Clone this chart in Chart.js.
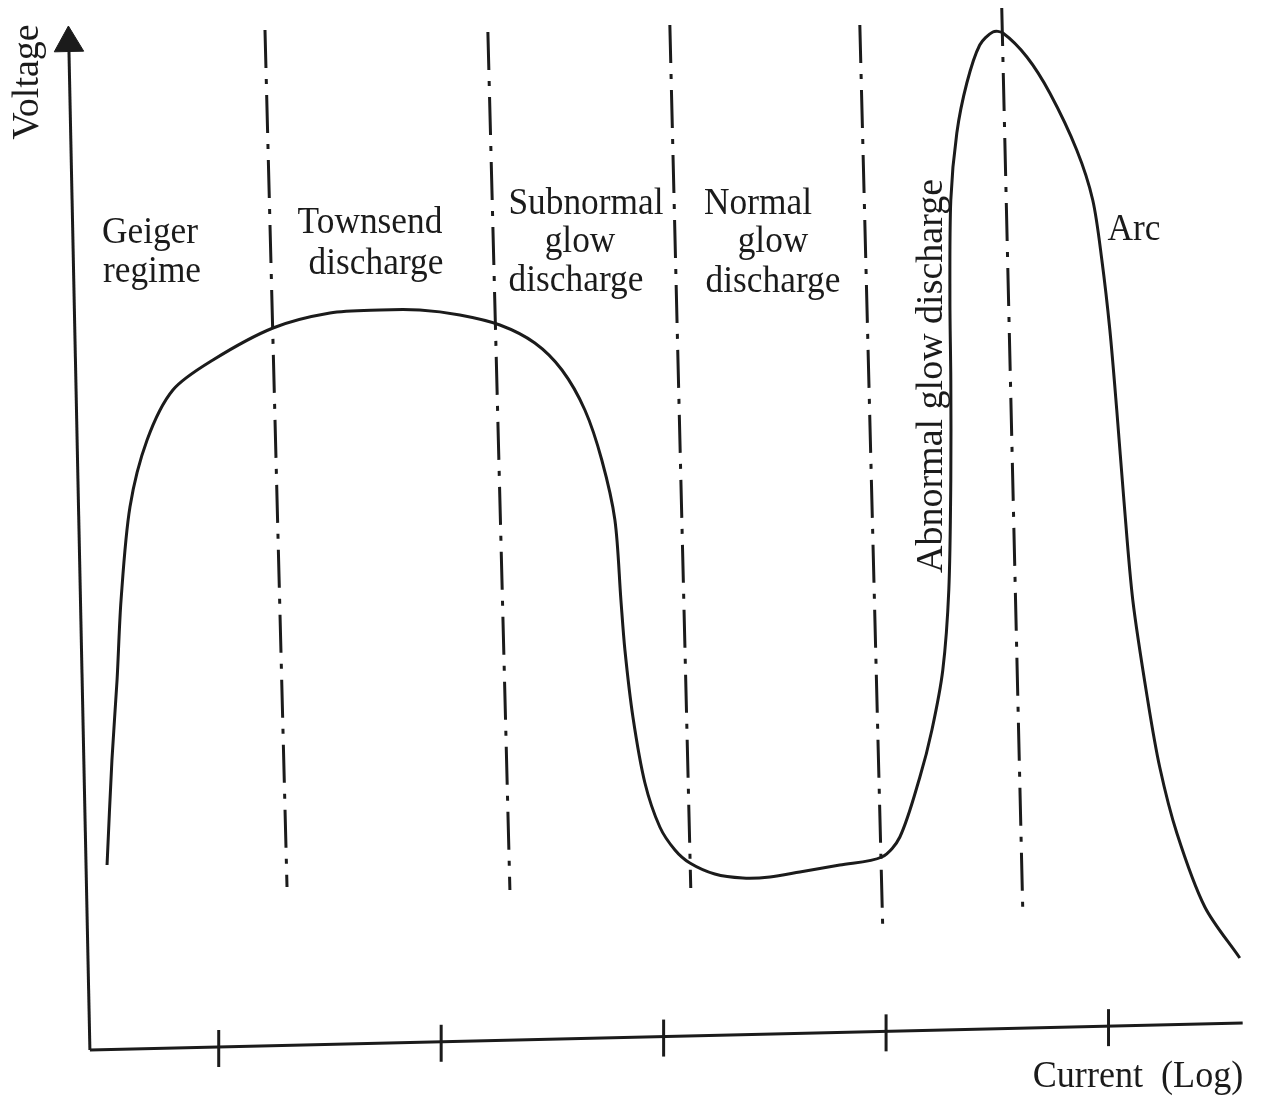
<!DOCTYPE html>
<html>
<head>
<meta charset="utf-8">
<title>Voltage-current characteristic of a gas discharge</title>
<script src="https://cdn.jsdelivr.net/npm/chart.js@4.4.3/dist/chart.umd.min.js"></script>
<style>
  html, body { margin: 0; padding: 0; background: #fff; }
  #wrap { width: 1264px; height: 1098px; position: relative; }
</style>
</head>
<body>
<div id="wrap"><canvas id="chart"></canvas></div>
<script>
  // x = log current (decades, ticks at 1..5), y = voltage (arbitrary units)
  var curveX = [0.498, 0.520, 0.543, 0.561, 0.601, 0.678, 0.794, 0.974, 1.244, 1.500,
                1.725, 1.904, 2.084, 2.264, 2.421, 2.543, 2.646, 2.722, 2.781, 2.808,
                2.826, 2.862, 2.916, 2.983, 3.051, 3.118, 3.230, 3.356, 3.478, 3.612,
                3.792, 3.981, 4.062, 4.152, 4.206, 4.255, 4.282, 4.291, 4.291, 4.287,
                4.291, 4.318, 4.363, 4.421, 4.480, 4.525, 4.633, 4.736, 4.857, 4.929,
                4.970, 5.006, 5.037, 5.069, 5.109, 5.176, 5.230, 5.307, 5.433, 5.590];
  var curveV = [1.85, 2.90, 3.70, 4.50, 5.43, 6.10, 6.60, 6.90, 7.22, 7.37,
                7.40, 7.40, 7.35, 7.25, 7.07, 6.80, 6.40, 5.90, 5.30, 4.50,
                4.00, 3.33, 2.67, 2.23, 2.00, 1.87, 1.76, 1.72, 1.73, 1.78,
                1.85, 1.93, 2.13, 2.73, 3.20, 3.80, 4.60, 5.70, 6.70, 7.50,
                8.50, 9.17, 9.67, 10.05, 10.18, 10.17, 9.93, 9.57, 9.00, 8.50,
                7.90, 7.20, 6.40, 5.50, 4.50, 3.50, 2.83, 2.17, 1.43, 0.92];

  // regime boundaries (dash-dot), top and bottom end of each
  var boundTopX = [1.208, 2.210, 3.028, 3.882, 4.520];
  var boundTopV = [10.20, 10.18, 10.25, 10.25, 10.42];
  var boundBotX = [1.307, 2.309, 3.122, 3.985, 4.615];
  var boundBotV = [1.63, 1.60, 1.62, 1.22, 1.35];

  // axes (hand drawn, slightly skewed)
  var xAxisX = [0.421, 5.603];
  var xAxisV = [0, 0.27];
  var yAxisX = [0.421, 0.326];
  var yAxisV = [0, 10.07];
  var xTicks = [1, 2, 3, 4, 5];

  var regimeLabels = [
    { lines: ['Geiger', 'regime'], x: [150, 152], y: [243, 282] },
    { lines: ['Townsend', 'discharge'], x: [370, 376], y: [233, 274] },
    { lines: ['Subnormal', 'glow', 'discharge'], x: [586, 580, 576], y: [214, 252, 291] },
    { lines: ['Normal', 'glow', 'discharge'], x: [758, 773, 773], y: [214, 252, 292] },
    { lines: ['Arc'], x: [1134], y: [240] }
  ];

  var INK = '#1b1b1b';
  var FONT = '38px "Liberation Serif", "Times New Roman", serif';

  function pts(xs, ys) {
    return xs.map(function (x, i) { return { x: x, y: ys[i] }; });
  }

  var datasets = [];
  datasets.push({
    data: pts(curveX, curveV), borderColor: INK, borderWidth: 3,
    tension: 0.3, pointRadius: 0
  });
  for (var i = 0; i < boundTopX.length; i++) {
    datasets.push({
      data: [{ x: boundTopX[i], y: boundTopV[i] }, { x: boundBotX[i], y: boundBotV[i] }],
      borderColor: INK, borderWidth: 3, borderDash: [38, 11, 5, 11],
      pointRadius: 0, tension: 0
    });
  }
  datasets.push({
    data: pts(xAxisX, xAxisV), borderColor: INK, borderWidth: 3, pointRadius: 0, tension: 0
  });
  datasets.push({
    data: pts(yAxisX, yAxisV), borderColor: INK, borderWidth: 3, tension: 0,
    pointRadius: [0, 17], pointStyle: 'triangle', pointRotation: -1.3,
    pointBackgroundColor: INK, pointBorderColor: INK, pointBorderWidth: 1
  });

  function text(ctx, str, x, y, sx) {
    ctx.save();
    ctx.translate(x, y);
    ctx.scale(sx, 1);
    ctx.fillText(str, 0, 0);
    ctx.restore();
  }

  var decor = {
    id: 'decor',
    afterDatasetsDraw: function (chart) {
      var ctx = chart.ctx;
      var xs = chart.scales.x, ys = chart.scales.y;
      ctx.save();
      // tick marks on the skewed current axis
      ctx.strokeStyle = INK;
      ctx.lineWidth = 3;
      xTicks.forEach(function (t) {
        var f = (t - xAxisX[0]) / (xAxisX[1] - xAxisX[0]);
        var v = xAxisV[0] + f * (xAxisV[1] - xAxisV[0]);
        var px = xs.getPixelForValue(t), py = ys.getPixelForValue(v);
        ctx.beginPath();
        ctx.moveTo(px, py - 17);
        ctx.lineTo(px, py + 20);
        ctx.stroke();
      });

      ctx.fillStyle = INK;
      ctx.font = FONT;
      ctx.textAlign = 'center';
      ctx.textBaseline = 'alphabetic';
      regimeLabels.forEach(function (lab) {
        lab.lines.forEach(function (s, k) { text(ctx, s, lab.x[k], lab.y[k], 0.93); });
      });
      text(ctx, 'Current  (Log)', 1138, 1087, 0.95);

      // rotated labels
      ctx.save();
      ctx.translate(942, 376);
      ctx.rotate(-Math.PI / 2);
      ctx.fillText('Abnormal glow discharge', 0, 0);
      ctx.restore();

      ctx.save();
      ctx.translate(38, 82);
      ctx.rotate(-Math.PI / 2);
      ctx.fillText('Voltage', 0, 0);
      ctx.restore();

      ctx.restore();
    }
  };

  new Chart(document.getElementById('chart'), {
    type: 'scatter',
    data: { datasets: datasets },
    options: {
      responsive: true,
      maintainAspectRatio: false,
      animation: false,
      showLine: true,
      layout: { autoPadding: false, padding: { left: 63, right: 22, top: 0, bottom: 48 } },
      elements: { line: { fill: false, capBezierPoints: true } },
      plugins: { legend: { display: false }, tooltip: { enabled: false } },
      scales: {
        x: { type: 'linear', min: 0.3, max: 5.6, display: false },
        y: { type: 'linear', min: 0, max: 10.5, display: false }
      },
      clip: false
    },
    plugins: [decor]
  });
</script>
</body>
</html>
